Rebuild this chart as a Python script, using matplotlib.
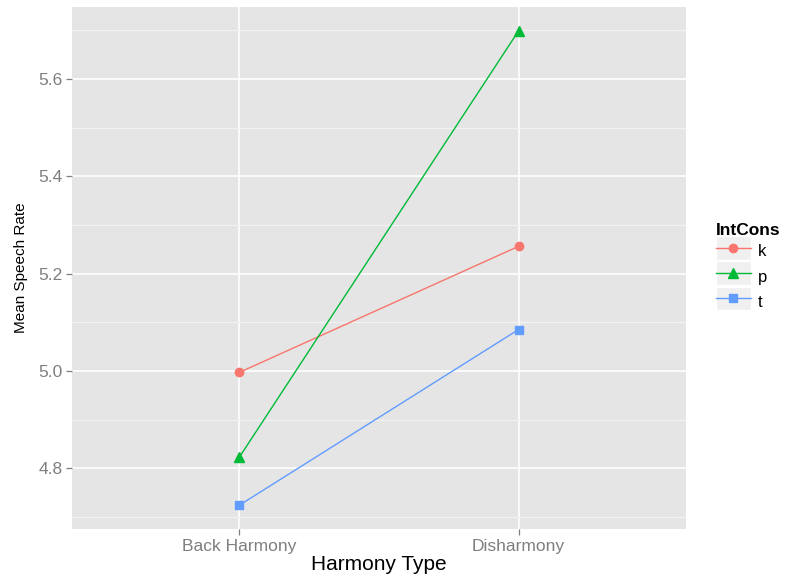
import matplotlib.pyplot as plt
from matplotlib.lines import Line2D
from matplotlib.patches import Rectangle
from matplotlib.legend_handler import HandlerPatch
import numpy as np

harmony = ['Back Harmony', 'Disharmony']
cons = ['k', 'p', 't']
rate_k = [4.997, 5.256]
rate_p = [4.823, 5.699]
rate_t = [4.724, 5.085]

colors = {'k': '#F8766D', 'p': '#00BA38', 't': '#619CFF'}
markers = {'k': 'o', 'p': '^', 't': 's'}
msize = {'k': 6, 'p': 6.5, 't': 5.5}

plt.rcParams['font.family'] = ['Liberation Sans', 'DejaVu Sans']


def key_box(legend, orig_handle, xdescent, ydescent, width, height, fontsize):
    # grey key background centred on the legend line
    return Rectangle((-xdescent, -ydescent / 2), width, height)


fig = plt.figure(figsize=(7.94, 5.77), dpi=100)
ax = fig.add_axes([0.0907, 0.0832, 0.7733, 0.9047])
ax.set_facecolor('#E5E5E5')
for s in ax.spines.values():
    s.set_visible(False)

x = np.arange(1, len(harmony) + 1)
series = {'k': rate_k, 'p': rate_p, 't': rate_t}
handles = []
for c in cons:
    ax.plot(x, series[c], color=colors[c], lw=1.0, marker=markers[c],
            ms=msize[c], mec=colors[c], zorder=3)
    key = Rectangle((0, 0), 1, 1, facecolor='#F0F0F0', edgecolor='white', lw=1)
    ln = Line2D([], [], color=colors[c], lw=1.0, marker=markers[c],
                ms=msize[c], mec=colors[c])
    handles.append((key, ln))

ax.set_xlim(0.4, 2.6)
ax.set_ylim(4.675, 5.748)
ax.set_xticks(x)
ax.set_xticklabels(harmony)
ax.set_yticks([4.8, 5.0, 5.2, 5.4, 5.6])
ax.set_yticks([4.7, 4.9, 5.1, 5.3, 5.5, 5.7], minor=True)
ax.grid(which='major', color='white', lw=1.2)
ax.grid(which='minor', axis='y', color='#F2F2F2', lw=0.9)
ax.set_axisbelow(True)
ax.tick_params(axis='both', which='major', direction='out', length=4,
               width=0.9, color='#7F7F7F', labelcolor='#7F7F7F',
               labelsize=12.5, pad=3)
ax.tick_params(axis='y', which='minor', length=0)

ax.set_xlabel('Harmony Type', fontsize=15, labelpad=1)
ax.set_ylabel('Mean Speech Rate', fontsize=11, labelpad=7)

leg = ax.legend(handles, cons, title='IntCons', loc='upper left',
                bbox_to_anchor=(0.898, 0.62), bbox_transform=fig.transFigure,
                frameon=False, fontsize=12, handlelength=2.05,
                handleheight=1.8, labelspacing=0.1, handletextpad=0.45,
                borderpad=0.2, borderaxespad=0,
                handler_map={Rectangle: HandlerPatch(patch_func=key_box)})
leg.get_title().set_fontweight('bold')
leg.get_title().set_fontsize(12.5)
leg._legend_box.align = 'left'

fig.savefig('out.png', dpi=100)
